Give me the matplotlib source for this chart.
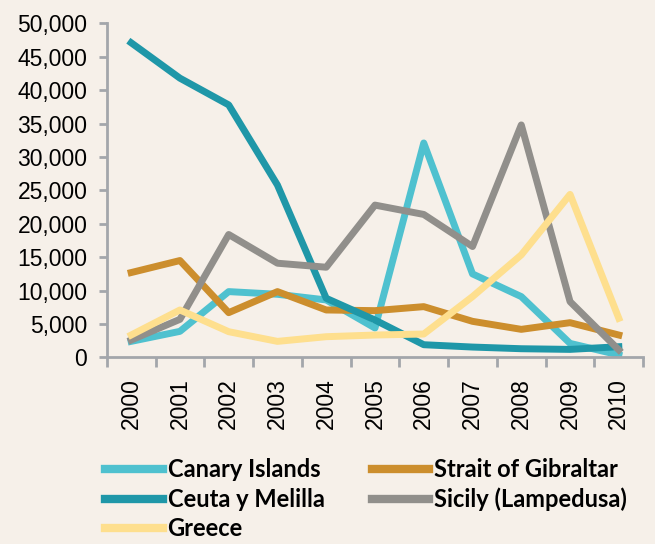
import numpy as np
import matplotlib.pyplot as plt

# Data
years = ["2000", "2001", "2002", "2003", "2004", "2005",
         "2006", "2007", "2008", "2009", "2010"]
canary = [2400, 3900, 9850, 9450, 8600, 4400, 32100, 12500, 9100, 2100, 370]
ceuta = [47100, 41800, 37800, 25800, 8850, 5600, 1900, 1550, 1300, 1200, 1600]
gibraltar = [12700, 14500, 6700, 9850, 7100, 7000, 7600, 5400, 4200, 5200, 3350]
sicily = [2600, 5700, 18400, 14100, 13500, 22800, 21400, 16600, 34800, 8350, 1120]
greece = [3350, 7100, 3850, 2400, 3100, 3350, 3500, 9100, 15350, 24400, 5850]

bg = "#F6F0E9"
axis_col = "#A3A6AB"

fig = plt.figure(figsize=(6.55, 5.44), dpi=100, facecolor=bg)
ax = fig.add_axes([0.163, 0.343, 0.819, 0.614], facecolor=bg)

x = np.arange(len(years))
lw = 5
l_canary, = ax.plot(x, canary, color="#4FC1CF", lw=lw, label="Canary Islands")
l_gib, = ax.plot(x, gibraltar, color="#CC8E2D", lw=lw, label="Strait of Gibraltar")
l_ceuta, = ax.plot(x, ceuta, color="#1F97A8", lw=lw, label="Ceuta y Melilla")
l_sicily, = ax.plot(x, sicily, color="#918F8B", lw=lw, label="Sicily (Lampedusa)")
l_greece, = ax.plot(x, greece, color="#FEDF8E", lw=lw, label="Greece")

ax.set_xlim(-0.5, len(years) - 0.5)
ax.set_ylim(0, 50000)
ax.set_yticks(np.arange(0, 50001, 5000))
ax.set_yticklabels([f"{v:,}" for v in range(0, 50001, 5000)],
                   fontsize=16.5, family="Liberation Sans")
ax.set_xticks(x)
ax.set_xticklabels(years, rotation=90, fontsize=16.5, family="Liberation Sans")
ax.set_xticks(np.arange(-0.5, len(years)), minor=True)
ax.tick_params(axis="x", which="major", length=0, pad=15)
ax.tick_params(axis="x", which="minor", length=7, width=2, color=axis_col)
ax.tick_params(axis="y", length=6, width=2, color=axis_col, pad=8)

for s in ["top", "right"]:
    ax.spines[s].set_visible(False)
for s in ["left", "bottom"]:
    ax.spines[s].set_color(axis_col)
    ax.spines[s].set_linewidth(2)

# Excel-style legend filled row-wise; matplotlib fills column-wise
handles = [l_canary, l_ceuta, l_greece, l_gib, l_sicily]
leg = fig.legend(handles=handles, labels=[h.get_label() for h in handles],
                 ncol=2, loc="upper left", bbox_to_anchor=(0.135, 0.188),
                 frameon=False, handlelength=2.45, handletextpad=0.2,
                 columnspacing=2.0, labelspacing=0.28, borderpad=0.2,
                 prop={"family": "Lato", "weight": "bold", "size": 17})
for h in leg.get_lines():
    h.set_linewidth(6)

fig.savefig("out.png", dpi=100, facecolor=bg)
